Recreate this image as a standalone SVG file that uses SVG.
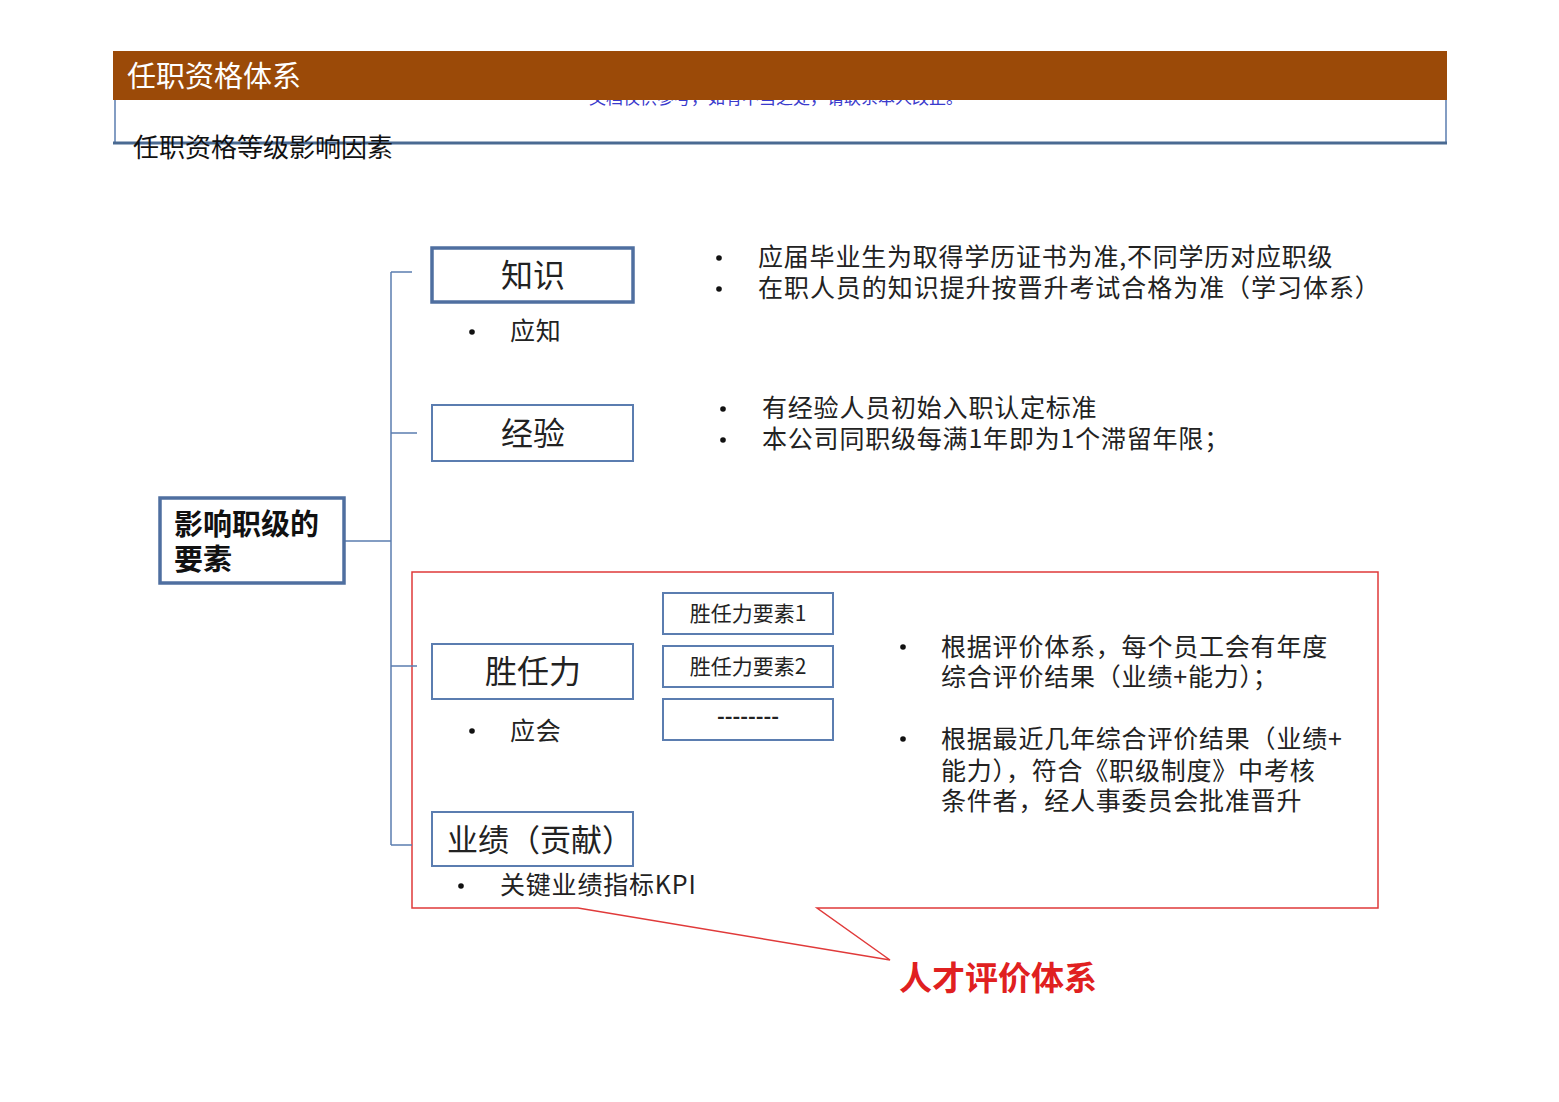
<svg xmlns="http://www.w3.org/2000/svg" width="1559" height="1102" viewBox="0 0 1559 1102">
<style>
text{font-family:"Noto Sans CJK SC","Liberation Sans",sans-serif;fill:#222}
.box{fill:#fff;stroke:#5b7db0;stroke-width:2}
.boxb{fill:#fff;stroke:#4f6fa0;stroke-width:3.5}
.conn{fill:none;stroke:#5b7db0;stroke-width:1.5}
.big{font-size:32px;text-anchor:middle}
.body{font-size:25px;letter-spacing:0.8px}
.small{font-size:21px;text-anchor:middle}
.bul{fill:#111}
</style>
<defs>
<circle id="dot" r="2.8"/>
</defs>
<rect width="1559" height="1102" fill="#fff"/>
<g id="header">
<text x="776" y="104" font-size="17" text-anchor="middle" style="fill:#3a3acc">文档仅供参考，如有不当之处，请联系本人改正。</text>
<rect x="113" y="51" width="1334" height="49" fill="#9b4a08"/>
<text x="127" y="87" font-size="29" style="fill:#fff">任职资格体系</text>
<path d="M115 100 V143 M1446 100 V143" stroke="#5b7db0" stroke-width="1.5" fill="none"/>
<line x1="113" y1="143" x2="1447" y2="143" stroke="#4a6a92" stroke-width="3"/>
<text x="133" y="157" font-size="26" style="fill:#111">任职资格等级影响因素</text>
</g>
<g id="callout">
<path d="M412 572 H1378 V908 H817 L890 960 L578 908 H412 Z" fill="none" stroke="#e03a3a" stroke-width="1.5"/>
<text x="899" y="990" font-size="33" font-weight="bold" style="fill:#e02020">人才评价体系</text>
</g>
<g id="connectors">
<path class="conn" d="M344 541 H391 M391 272 V845 M391 272 H412 M391 433 H417 M391 666 H417 M391 845 H412"/>
</g>
<g id="root">
<rect class="boxb" x="160" y="498" width="184" height="85"/>
<text x="174" y="535" font-size="29" font-weight="bold" style="fill:#111">影响职级的</text>
<text x="174" y="570" font-size="29" font-weight="bold" style="fill:#111">要素</text>
</g>
<g id="knowledge">
<rect class="boxb" x="432" y="248" width="201" height="54"/>
<text class="big" x="533" y="287">知识</text>
<use href="#dot" class="bul" x="472" y="332"/>
<text class="body" x="510" y="340">应知</text>
<use href="#dot" class="bul" x="719" y="258"/>
<text class="body" x="758" y="266">应届毕业生为取得学历证书为准,不同学历对应职级</text>
<use href="#dot" class="bul" x="719" y="289"/>
<text class="body" x="758" y="297" style="letter-spacing:0.95px">在职人员的知识提升按晋升考试合格为准（学习体系）</text>
</g>
<g id="experience">
<rect class="box" x="432" y="405" width="201" height="56"/>
<text class="big" x="533" y="445">经验</text>
<use href="#dot" class="bul" x="723" y="409"/>
<text class="body" x="762" y="417">有经验人员初始入职认定标准</text>
<use href="#dot" class="bul" x="723" y="440"/>
<text class="body" x="762" y="448">本公司同职级每满1年即为1个滞留年限；</text>
</g>
<g id="competence">
<rect class="box" x="432" y="644" width="201" height="55"/>
<text class="big" x="533" y="683">胜任力</text>
<use href="#dot" class="bul" x="472" y="731"/>
<text class="body" x="510" y="740">应会</text>
</g>
<g id="comp1">
<rect class="box" x="663" y="593" width="170" height="41"/>
<text class="small" x="748" y="621">胜任力要素1</text>
</g>
<g id="comp2">
<rect class="box" x="663" y="646" width="170" height="41"/>
<text class="small" x="748" y="674">胜任力要素2</text>
</g>
<g id="comp3">
<rect class="box" x="663" y="699" width="170" height="41"/>
<text class="small" x="748" y="724" font-weight="bold">--------</text>
</g>
<g id="evaluation-text">
<use href="#dot" class="bul" x="903" y="647"/>
<text class="body" x="941" y="656">根据评价体系，每个员工会有年度</text>
<text class="body" x="941" y="686">综合评价结果（业绩+能力）；</text>
<use href="#dot" class="bul" x="903" y="739"/>
<text class="body" x="941" y="748">根据最近几年综合评价结果（业绩+</text>
<text class="body" x="941" y="780">能力），符合《职级制度》中考核</text>
<text class="body" x="941" y="810">条件者，经人事委员会批准晋升</text>
</g>
<g id="performance">
<rect class="box" x="432" y="812" width="201" height="54"/>
<text x="447" y="851" font-size="31">业绩（贡献）</text>
<use href="#dot" class="bul" x="461" y="886"/>
<text class="body" x="500" y="894">关键业绩指标KPI</text>
</g>
</svg>
